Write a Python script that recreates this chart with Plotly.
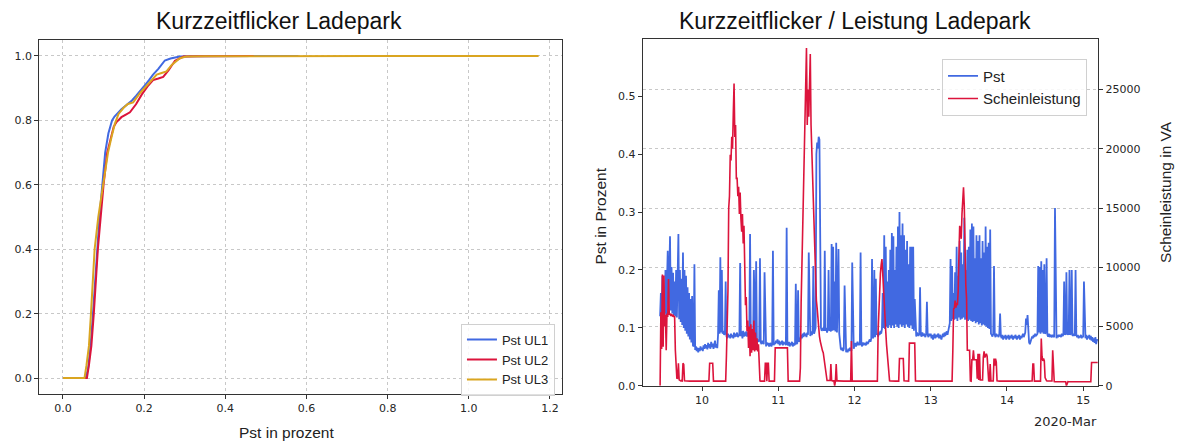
import pandas as pd
import plotly.graph_objects as go

# ---------------- left panel: cumulative distribution of Pst ----------------
CDF_UL1_X = [0.0, 0.056, 0.062, 0.068, 0.074, 0.079, 0.084, 0.090, 0.097, 0.104,
             0.112, 0.121, 0.127, 0.135, 0.144, 0.155, 0.170, 0.180, 0.189, 0.200,
             0.212, 0.222, 0.235, 0.245, 0.251, 0.265, 0.288, 0.320, 0.400, 0.580]
CDF_UL1_Y = [0.0, 0.0, 0.03, 0.10, 0.20, 0.30, 0.40, 0.50, 0.60, 0.70,
             0.76, 0.80, 0.812, 0.824, 0.835, 0.846, 0.862, 0.876, 0.891, 0.906,
             0.925, 0.942, 0.960, 0.978, 0.986, 0.992, 0.998, 0.999, 0.9995, 1.0]

CDF_UL2_X = [0.0, 0.059, 0.064, 0.070, 0.076, 0.081, 0.086, 0.093, 0.100, 0.109,
             0.118, 0.125, 0.132, 0.144, 0.155, 0.165, 0.180, 0.194, 0.208, 0.222,
             0.235, 0.247, 0.260, 0.276, 0.297, 0.330, 0.470]
CDF_UL2_Y = [0.0, 0.0, 0.04, 0.10, 0.20, 0.30, 0.40, 0.50, 0.60, 0.70,
             0.75, 0.78, 0.795, 0.810, 0.818, 0.825, 0.850, 0.880, 0.905, 0.925,
             0.930, 0.935, 0.955, 0.985, 0.998, 0.999, 1.0]

CDF_UL3_X = [0.0, 0.053, 0.058, 0.064, 0.069, 0.074, 0.078, 0.087, 0.099, 0.111,
             0.120, 0.128, 0.137, 0.150, 0.160, 0.173, 0.190, 0.206, 0.220, 0.231,
             0.245, 0.255, 0.268, 0.288, 0.304, 0.350, 0.760, 1.172]
CDF_UL3_Y = [0.0, 0.0, 0.04, 0.10, 0.20, 0.30, 0.40, 0.50, 0.60, 0.70,
             0.75, 0.79, 0.820, 0.840, 0.851, 0.856, 0.885, 0.907, 0.928, 0.942,
             0.948, 0.952, 0.972, 0.993, 0.998, 0.999, 0.9998, 1.0]

LEFT_XTICKS = [0.0, 0.2, 0.4, 0.6, 0.8, 1.0, 1.2]
LEFT_YTICKS = [0.0, 0.2, 0.4, 0.6, 0.8, 1.0]

# ---------------- right panel: time series (samples every 14.4 min) ----------------
SAMPLE_MINUTES = 14.4
DAY_STARTS = ["2020-03-09 10:48", "2020-03-10", "2020-03-11", "2020-03-12",
              "2020-03-13", "2020-03-14", "2020-03-15"]

PST_09 = [0.120, 0.160, 0.118, 0.190, 0.122,
          0.150, 0.125, 0.200, 0.122, 0.170, 0.233, 0.125, 0.200, 0.258, 0.130,
          0.205, 0.125, 0.195, 0.122, 0.180, 0.120, 0.200, 0.118, 0.170, 0.262,
          0.115, 0.200, 0.110, 0.185, 0.105, 0.230, 0.100, 0.200, 0.095, 0.190,
          0.090, 0.170, 0.085, 0.160, 0.080, 0.150, 0.075, 0.155, 0.070, 0.068,
          0.210, 0.062, 0.068, 0.060, 0.066, 0.058, 0.065, 0.060, 0.068, 0.062]
PST_10 = [0.066, 0.060, 0.070, 0.064, 0.072, 0.065, 0.070, 0.063, 0.074, 0.066,
          0.072, 0.064, 0.076, 0.067, 0.073, 0.064, 0.070, 0.078, 0.066, 0.072,
          0.065, 0.088, 0.165, 0.090, 0.222, 0.092, 0.200, 0.090, 0.095, 0.088,
          0.090, 0.180, 0.086, 0.082, 0.090, 0.084, 0.088, 0.082, 0.090, 0.084,
          0.088, 0.082, 0.092, 0.084, 0.090, 0.085, 0.092, 0.084, 0.088, 0.086,
          0.212, 0.086, 0.094, 0.082, 0.095, 0.085, 0.092, 0.086, 0.094, 0.085,
          0.092, 0.088, 0.095, 0.262, 0.090, 0.086, 0.092, 0.085, 0.200, 0.082,
          0.078, 0.215, 0.076, 0.080, 0.076, 0.078, 0.220, 0.075, 0.072, 0.078,
          0.074, 0.072, 0.196, 0.070, 0.068, 0.075, 0.070, 0.074, 0.068, 0.072,
          0.074, 0.068, 0.072, 0.233, 0.070, 0.074, 0.072, 0.078, 0.074, 0.080]
PST_11 = [0.072, 0.078, 0.070, 0.076, 0.072, 0.078, 0.070, 0.076, 0.072, 0.075,
          0.070, 0.273, 0.072, 0.070, 0.076, 0.068, 0.074, 0.070, 0.076, 0.068,
          0.074, 0.070, 0.072, 0.176, 0.072, 0.074, 0.165, 0.076, 0.078, 0.080,
          0.088, 0.082, 0.090, 0.084, 0.092, 0.086, 0.090, 0.084, 0.092, 0.088,
          0.230, 0.090, 0.086, 0.094, 0.088, 0.092, 0.207, 0.090, 0.095, 0.100,
          0.400, 0.420, 0.410, 0.430, 0.425, 0.150, 0.100, 0.095, 0.098, 0.100,
          0.095, 0.233, 0.095, 0.100, 0.092, 0.098, 0.200, 0.095, 0.098, 0.094,
          0.245, 0.095, 0.240, 0.096, 0.180, 0.094, 0.247, 0.092, 0.150, 0.236,
          0.090, 0.072, 0.064, 0.062, 0.066, 0.060, 0.064, 0.173, 0.062, 0.058,
          0.062, 0.058, 0.064, 0.060, 0.066, 0.062, 0.060, 0.213, 0.066, 0.064]
PST_12 = [0.070, 0.074, 0.068, 0.072, 0.076, 0.070, 0.074, 0.070, 0.230, 0.072,
          0.068, 0.075, 0.070, 0.074, 0.072, 0.070, 0.076, 0.072, 0.074, 0.078,
          0.080, 0.076, 0.082, 0.219, 0.082, 0.085, 0.200, 0.084, 0.185, 0.088,
          0.090, 0.085, 0.092, 0.088, 0.095, 0.090, 0.098, 0.160, 0.100, 0.260,
          0.098, 0.240, 0.102, 0.180, 0.100, 0.200, 0.104, 0.235, 0.100, 0.264,
          0.104, 0.258, 0.100, 0.200, 0.106, 0.240, 0.102, 0.275, 0.100, 0.300,
          0.106, 0.260, 0.102, 0.280, 0.104, 0.260, 0.100, 0.235, 0.106, 0.250,
          0.102, 0.210, 0.100, 0.240, 0.104, 0.240, 0.098, 0.240, 0.095, 0.150,
          0.090, 0.085, 0.092, 0.088, 0.086, 0.090, 0.170, 0.088, 0.085, 0.092,
          0.086, 0.090, 0.088, 0.084, 0.090, 0.145, 0.088, 0.084, 0.090, 0.086]
PST_13 = [0.090, 0.082, 0.088, 0.080, 0.086, 0.090, 0.082, 0.088, 0.084, 0.086,
          0.090, 0.082, 0.088, 0.084, 0.080, 0.086, 0.090, 0.084, 0.092, 0.086,
          0.090, 0.094, 0.088, 0.096, 0.100, 0.108, 0.219, 0.112, 0.207, 0.115,
          0.160, 0.114, 0.196, 0.116, 0.240, 0.112, 0.190, 0.118, 0.250, 0.114,
          0.230, 0.116, 0.210, 0.118, 0.290, 0.114, 0.200, 0.116, 0.235, 0.112,
          0.240, 0.114, 0.270, 0.112, 0.280, 0.110, 0.275, 0.112, 0.220, 0.108,
          0.260, 0.110, 0.250, 0.106, 0.260, 0.108, 0.220, 0.104, 0.250, 0.106,
          0.230, 0.104, 0.275, 0.102, 0.240, 0.100, 0.247, 0.098, 0.270, 0.090,
          0.088, 0.085, 0.090, 0.207, 0.088, 0.084, 0.090, 0.086, 0.088, 0.084,
          0.090, 0.125, 0.086, 0.082, 0.088, 0.080, 0.086, 0.082, 0.088, 0.080]
PST_14 = [0.086, 0.082, 0.088, 0.080, 0.086, 0.082, 0.088, 0.084, 0.080, 0.086,
          0.082, 0.088, 0.084, 0.080, 0.086, 0.082, 0.088, 0.080, 0.086, 0.082,
          0.086, 0.090, 0.084, 0.088, 0.092, 0.116, 0.105, 0.122, 0.088, 0.075,
          0.072, 0.076, 0.080, 0.085, 0.082, 0.088, 0.084, 0.090, 0.086, 0.090,
          0.090, 0.207, 0.092, 0.205, 0.090, 0.215, 0.092, 0.200, 0.090, 0.210,
          0.090, 0.092, 0.220, 0.088, 0.085, 0.090, 0.084, 0.088, 0.086, 0.084,
          0.088, 0.086, 0.084, 0.307, 0.086, 0.082, 0.088, 0.084, 0.088, 0.085,
          0.088, 0.084, 0.090, 0.086, 0.088, 0.180, 0.088, 0.090, 0.196, 0.088,
          0.090, 0.088, 0.200, 0.088, 0.090, 0.200, 0.086, 0.088, 0.090, 0.086,
          0.200, 0.088, 0.084, 0.088, 0.082, 0.086, 0.084, 0.088, 0.082, 0.086]
PST_15 = [0.084, 0.180, 0.085, 0.082, 0.088, 0.080, 0.086, 0.082, 0.088, 0.080,
          0.086, 0.078, 0.084, 0.076, 0.082, 0.074, 0.084, 0.072, 0.080, 0.078]

S_09 = [0, 6200, 3100, 9400, 3300,
        9300, 5000, 6000, 3000, 6100, 5800, 9000, 6000, 6100, 5900,
        6000, 5900, 6000, 5800, 5900, 3000, 900, 600, 650, 1900,
        500, 450, 420, 440, 420, 1900, 1800, 420, 410, 420,
        400, 410, 400, 410, 400, 410, 400, 410, 400, 410,
        400, 410, 400, 410, 400, 410, 400, 410, 400, 410]
S_10 = [400, 410, 400, 410, 400, 410, 400, 410, 400, 410,
        1900, 1900, 1900, 1900, 1900, 400, 410, 400, 410, 400,
        400, 410, 400, 410, 400, 410, 400, 410, 400, 410,
        400, 400, 2500, 6000, 8000, 15000, 16000, 19500, 19000, 21000,
        20000, 23000, 25500, 21000, 22000, 17500, 17500, 16000, 16800, 14500,
        16300, 14100, 13000, 14500, 12000, 13500, 9000, 6800, 7500, 4600,
        5500, 3200, 5000, 2500, 5200, 2800, 4800, 3000, 5500, 2900,
        4500, 3000, 4000, 2900, 3500, 1500, 420, 400, 410, 400,
        400, 410, 400, 1900, 1900, 400, 1900, 1900, 400, 410,
        400, 410, 400, 410, 400, 400, 3200, 3200, 3200, 3200]
S_11 = [3200, 3200, 3200, 3200, 3200, 3200, 3200, 3200, 3200, 3200,
        3200, 3200, 3200, 400, 410, 400, 410, 400, 410, 400,
        400, 410, 400, 410, 400, 410, 400, 410, 400, 1500,
        7000, 10000, 13000, 16500, 18800, 21700, 23000, 28500, 22000, 25000,
        22700, 24500, 28000, 22000, 20000, 17500, 15700, 12950, 10500, 8800,
        7200, 6560, 5450, 4800, 4200, 3780, 3400, 3100, 2950, 2800,
        2300, 1830, 1000, 580, 450, 450, 450, 450, 450, 1830,
        450, 420, 420, 420, 0, 420, 1830, 420, 420, 410,
        400, 410, 400, 410, 400, 410, 400, 410, 400, 410,
        400, 410, 400, 410, 400, 410, 3780, 400, 410, 400]
S_12 = [400, 410, 400, 410, 400, 410, 400, 410, 400, 410,
        400, 410, 400, 410, 400, 410, 400, 410, 400, 410,
        400, 410, 400, 410, 400, 410, 400, 410, 400, 410,
        400, 4600, 6500, 8000, 9500, 10200, 10700, 9500, 8500, 6800,
        6000, 4600, 3500, 2500, 1830, 900, 420, 410, 400, 410,
        400, 410, 400, 410, 400, 410, 400, 410, 400, 2300,
        2300, 2300, 2300, 2300, 2300, 420, 410, 400, 410, 400,
        410, 400, 3600, 3600, 3600, 3600, 3600, 3600, 3600, 3600,
        420, 410, 400, 410, 400, 410, 400, 410, 400, 410,
        400, 410, 400, 410, 400, 410, 400, 410, 400, 410]
S_13 = [400, 410, 400, 410, 400, 410, 400, 410, 400, 410,
        400, 410, 400, 410, 400, 410, 400, 410, 400, 410,
        400, 410, 400, 410, 400, 410, 400, 410, 400, 3000,
        6500, 6560, 7200, 6600, 7000, 6800, 7950, 11000, 13500, 13200,
        12400, 14500, 15500, 16750, 15180, 10170, 8500, 7400, 3000, 3000,
        3000, 3000, 420, 400, 2200, 2200, 3000, 2200, 2200, 2200,
        2200, 600, 2700, 500, 2700, 500, 480, 500, 490, 2400,
        2900, 2400, 2600, 2700, 2500, 500, 420, 410, 1830, 420,
        410, 400, 410, 2300, 1700, 2300, 2000, 420, 400, 410,
        400, 410, 400, 410, 400, 410, 400, 410, 400, 410]
S_14 = [400, 410, 400, 410, 400, 410, 400, 410, 400, 410,
        400, 410, 400, 410, 400, 410, 400, 410, 400, 410,
        400, 410, 400, 410, 400, 410, 400, 410, 400, 410,
        400, 410, 400, 410, 1830, 1830, 400, 410, 400, 410,
        400, 410, 400, 410, 400, 4000, 2500, 2100, 2300, 2100,
        700, 430, 420, 410, 400, 410, 400, 410, 400, 410,
        3000, 430, 350, 340, 350, 340, 350, 340, 350, 340,
        350, 340, 350, 340, 350, 340, 350, 340, 0, 340,
        350, 340, 350, 340, 350, 340, 350, 340, 350, 340,
        350, 340, 350, 340, 350, 340, 350, 340, 350, 340]
S_15 = [350, 340, 350, 340, 350, 340, 350, 340, 350, 340,
        340, 1970, 1970, 1970, 1970, 1970, 1970, 1970, 1970, 1970]

DAY_TICKS = ["2020-03-10", "2020-03-11", "2020-03-12", "2020-03-13", "2020-03-14", "2020-03-15"]
DAY_LABELS = ["10", "11", "12", "13", "14", "15"]
PST_TICKS = [0.0, 0.1, 0.2, 0.3, 0.4, 0.5]
S_TICKS = [0, 5000, 10000, 15000, 20000, 25000]


def stitch(starts, chunks):
    step = pd.Timedelta(minutes=SAMPLE_MINUTES)
    xs, ys = [], []
    for start, vals in zip(starts, chunks):
        t0 = pd.Timestamp(start)
        xs += [(t0 + i * step).to_pydatetime() for i in range(len(vals))]
        ys += list(vals)
    return xs, ys


pst_t, pst_v = stitch(DAY_STARTS, [PST_09, PST_10, PST_11, PST_12, PST_13, PST_14, PST_15])
s_t, s_v = stitch(DAY_STARTS, [S_09, S_10, S_11, S_12, S_13, S_14, S_15])

BLUE = "#4169E1"
RED = "#DC143C"
GOLD = "#DAA520"
TEXT_FONT = "Liberation Sans, Arial, sans-serif"
TICK_FONT = dict(family="DejaVu Sans, sans-serif", size=11, color="#262626")

fig = go.Figure()
fig.add_trace(go.Scatter(x=CDF_UL1_X, y=CDF_UL1_Y, mode="lines", name="Pst UL1",
                         line=dict(color=BLUE, width=2), xaxis="x", yaxis="y", legend="legend"))
fig.add_trace(go.Scatter(x=CDF_UL2_X, y=CDF_UL2_Y, mode="lines", name="Pst UL2",
                         line=dict(color=RED, width=2), xaxis="x", yaxis="y", legend="legend"))
fig.add_trace(go.Scatter(x=CDF_UL3_X, y=CDF_UL3_Y, mode="lines", name="Pst UL3",
                         line=dict(color=GOLD, width=2), xaxis="x", yaxis="y", legend="legend"))
fig.add_trace(go.Scatter(x=pst_t, y=pst_v, mode="lines", name="Pst",
                         line=dict(color=BLUE, width=1.8), xaxis="x2", yaxis="y2", legend="legend2"))
fig.add_trace(go.Scatter(x=s_t, y=s_v, mode="lines", name="Scheinleistung",
                         line=dict(color=RED, width=1.6), xaxis="x2", yaxis="y3", legend="legend2"))

axis_common = dict(showline=True, linecolor="#333333", linewidth=1, ticks="outside",
                   ticklen=4, tickwidth=1, tickcolor="#333333", tickfont=TICK_FONT,
                   zeroline=False)
grid = dict(showgrid=True, gridcolor="#c8c8c8", gridwidth=1, griddash="3px,3px")

fig.update_layout(
    width=1180, height=445,
    margin=dict(l=0, r=0, t=0, b=0),
    paper_bgcolor="white", plot_bgcolor="white",
    xaxis=dict(domain=[0.0332, 0.4766], anchor="y", range=[-0.0586, 1.2306],
               tickvals=LEFT_XTICKS, tickformat=".1f", mirror=True, **grid, **axis_common),
    yaxis=dict(domain=[0.100, 0.909], anchor="x", range=[-0.05, 1.05],
               tickvals=LEFT_YTICKS, tickformat=".1f", mirror=True, **grid, **axis_common),
    xaxis2=dict(domain=[0.5447, 0.9307], anchor="y2", type="date",
                range=["2020-03-09 05:20", "2020-03-15 04:44"],
                tickvals=DAY_TICKS, ticktext=DAY_LABELS, mirror=True, showgrid=False,
                **axis_common),
    yaxis2=dict(domain=[0.1191, 0.9101], anchor="x2", range=[0, 0.598],
                tickvals=PST_TICKS, tickformat=".1f", showgrid=False, side="left",
                **axis_common),
    yaxis3=dict(overlaying="y2", anchor="x2", side="right", range=[0, 29225],
                tickvals=S_TICKS, tickformat="d", **grid, **axis_common),
    legend=dict(x=0.4703, y=0.0967, xanchor="right", yanchor="bottom",
                bgcolor="rgba(255,255,255,0.85)", bordercolor="#d0d0d0", borderwidth=1,
                font=dict(family=TEXT_FONT, size=13, color="#222222")),
    legend2=dict(x=0.9212, y=0.866, xanchor="right", yanchor="top",
                 bgcolor="rgba(255,255,255,0.85)", bordercolor="#d0d0d0", borderwidth=1,
                 font=dict(family=TEXT_FONT, size=15, color="#222222")),
    annotations=[
        dict(text="Kurzzeitflicker Ladepark", x=279 / 1180, y=1 - 21.5 / 445,
             xref="paper", yref="paper", showarrow=False, xanchor="center", yanchor="middle",
             font=dict(family=TEXT_FONT, size=23, color="#111111")),
        dict(text="Kurzzeitflicker / Leistung Ladepark", x=855 / 1180, y=1 - 21.5 / 445,
             xref="paper", yref="paper", showarrow=False, xanchor="center", yanchor="middle",
             font=dict(family=TEXT_FONT, size=23, color="#111111")),
        dict(text="Pst in prozent", x=286 / 1180, y=1 - 439 / 445,
             xref="paper", yref="paper", showarrow=False, xanchor="center", yanchor="middle",
             font=dict(family=TEXT_FONT, size=15.5, color="#222222")),
        dict(text="Pst in Prozent", x=601 / 1180, y=1 - 220 / 445, textangle=-90,
             xref="paper", yref="paper", showarrow=False, xanchor="center", yanchor="middle",
             font=dict(family=TEXT_FONT, size=15.5, color="#222222")),
        dict(text="Scheinleistung in VA", x=1166 / 1180, y=1 - 195 / 445, textangle=-90,
             xref="paper", yref="paper", showarrow=False, xanchor="center", yanchor="middle",
             font=dict(family=TEXT_FONT, size=15.5, color="#222222")),
        dict(text="2020-Mar", x=1098.5 / 1180, y=1 - 428 / 445,
             xref="paper", yref="paper", showarrow=False, xanchor="right", yanchor="middle",
             font=dict(family="DejaVu Sans, sans-serif", size=13, color="#262626")),
    ],
)

fig.write_html("out.html", config={"displayModeBar": False})
